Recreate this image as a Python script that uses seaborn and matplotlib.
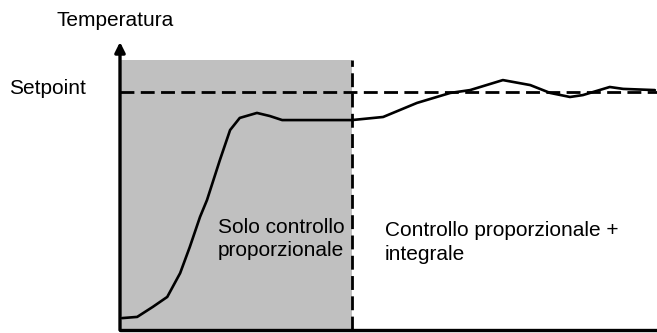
import matplotlib
matplotlib.use("Agg")
import matplotlib.pyplot as plt
import seaborn as sns
import pandas as pd

# Data (time 0-100, temperature with setpoint = 100)
time = [0.4, 3.2, 6.1, 8.8, 11.2, 13.0, 14.9, 16.2, 18.6, 20.5, 22.3, 25.5, 27.9, 30.2,
        43.2, 49.0, 55.3, 61.5, 65.2, 71.3, 76.4, 80.1, 83.8, 86.2, 91.2, 93.7, 99.6]
temperature = [5.0, 5.5, 9.7, 13.9, 23.9, 34.9, 47.5, 54.6, 71.4, 84.0, 89.1, 91.2, 89.9, 88.2,
               88.2, 89.5, 95.4, 99.6, 100.8, 105.0, 102.9, 99.6, 97.9, 98.7, 102.1, 101.3, 100.8]
setpoint = 100
switch_time = 43.2
shade_top = 113.4

df = pd.DataFrame({"tempo": time, "temperatura": temperature})

sns.set_style("white")
plt.rcParams['font.family'] = ['Liberation Sans', 'DejaVu Sans']
plt.rcParams['text.color'] = 'black'

fig = plt.figure(figsize=(6.57, 3.33), dpi=100)
ax = fig.add_axes([120 / 657, 3 / 333, 1 - 120 / 657, (330 - 42) / 333])
ax.set_xlim(0, 100)
ax.set_ylim(0, 121)

# Shaded proportional-only region
ax.fill_between([0, switch_time], 0, shade_top, color="#c0c0c0", lw=0, zorder=0)

# Setpoint and switch lines
ax.axhline(setpoint, color="black", lw=2.0, ls=(0, (5, 2.3)), zorder=2)
ax.plot([switch_time, switch_time], [0, shade_top], color="black", lw=2.0,
        ls=(0, (5, 2.3)), zorder=2)

sns.lineplot(data=df, x="tempo", y="temperatura", color="black", lw=1.9, ax=ax, zorder=3)

# Axes with arrow
for s in ax.spines.values():
    s.set_visible(False)
ax.set_xticks([])
ax.set_yticks([])
ax.set_xlabel("")
ax.set_ylabel("")
ax.annotate("", xy=(0, 1.0), xytext=(0, 0), xycoords="axes fraction",
            arrowprops=dict(arrowstyle="-|>", color="black", lw=2.4,
                            mutation_scale=15, shrinkA=0, shrinkB=0))
ax.plot([0, 1], [0, 0], transform=ax.transAxes, color="black", lw=2.4,
        clip_on=False, zorder=4)

fig.text(115 / 657, 1 - 21 / 333, "Temperatura", ha="center", va="center", fontsize=15)
fig.text(9 / 657, 1 - 88 / 333, "Setpoint", ha="left", va="center", fontsize=15)
ax.text(18.2, 38.2, "Solo controllo\nproporzionale", ha="left", va="center",
        fontsize=15, linespacing=1.3)
ax.text(49.3, 36.8, "Controllo proporzionale +\nintegrale", ha="left", va="center",
        fontsize=15, linespacing=1.3)

fig.savefig("out.png", dpi=100)
